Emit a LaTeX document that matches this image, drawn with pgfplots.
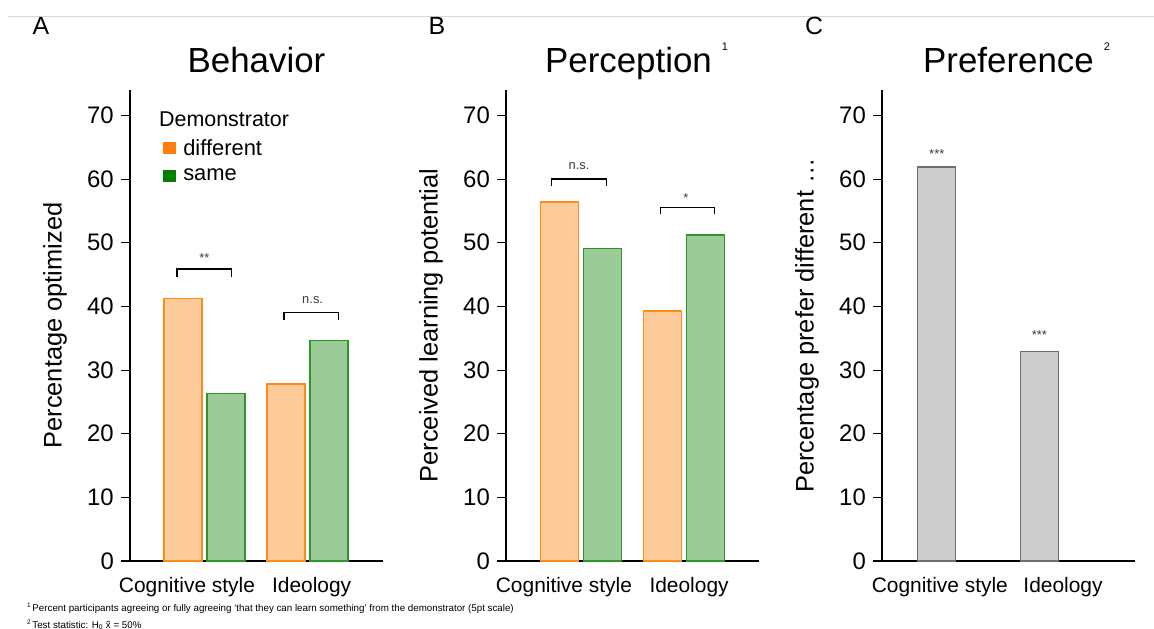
\documentclass[border=0pt]{standalone}
\usepackage{pgfplots}
\pgfplotsset{compat=1.18}
\usepackage{fontspec}
\setmainfont{Liberation Sans}
\definecolor{orfill}{RGB}{253,202,153}
\definecolor{oredge}{RGB}{255,140,26}
\definecolor{grfill}{RGB}{155,204,152}
\definecolor{gredge}{RGB}{44,150,44}
\definecolor{orleg}{RGB}{255,127,14}
\definecolor{grleg}{RGB}{0,128,0}
\definecolor{gyfill}{RGB}{204,204,204}
\definecolor{gyedge}{RGB}{110,110,110}
\definecolor{sigcol}{RGB}{60,60,60}
\pgfplotsset{panel/.style={
  scale only axis, width=253bp, height=471bp, ymin=0, ymax=74,
  axis lines=left, axis line style={-, line width=1.1bp, black},
  ytick={0,10,...,70},
  tick align=outside, major tick length=9bp,
  ytick style={line width=1.1bp, black}, xtick style={draw=none},
  yticklabel style={font=\fontsize{24}{24}\selectfont, inner sep=0pt, xshift=-7bp},
  xticklabel style={font=\fontsize{21}{21}\selectfont, inner sep=0pt, yshift=-7bp},
  /pgf/number format/assume math mode=true,
  every axis y label/.style={at={(axis description cs:-0.296,0.5)}, rotate=90, anchor=center, font=\fontsize{25.5}{25.5}\selectfont},
  title style={at={(axis description cs:0.5,1.025)}, anchor=base, font=\fontsize{35}{35}\selectfont},
  clip=false}}
\newcommand{\bracket}[3]{% xcenter, top, bottom
  \draw[line width=1.4bp, black] (axis cs:#1-0.265,#3) -- (axis cs:#1-0.265,#2) -- (axis cs:#1+0.265,#2) -- (axis cs:#1+0.265,#3);}
\begin{document}
\begin{tikzpicture}
\useasboundingbox (0,0) rectangle (1154bp,-629bp);
\draw[color={rgb,255:red,215;green,215;blue,215}, line width=0.8bp] (8bp,-16bp) -- (1154bp,-16bp);
% Panel A
\begin{axis}[panel, at={(130bp,-561bp)}, anchor=south west,
  xmin=-0.723, xmax=1.733, ybar, bar width=38bp,
  xtick={-0.17,1.04}, xticklabels={Cognitive style,Ideology},
  ylabel={Percentage optimized}, title={Behavior},
  legend style={draw=none, fill=none, inner sep=0pt, at={(axis description cs:0.13,0.897)}, anchor=north west,
    font=\fontsize{22}{22}\selectfont, row sep=10bp, nodes={inner sep=1bp}},
  legend cell align=left]
\addlegendimage{legend image code/.code={\fill[orleg] (0bp,-5bp) rectangle (12bp,6bp); \path[draw=none, fill=none] (0bp,0bp) rectangle (19bp,0.1bp);}}
\addlegendentry{different}
\addlegendimage{legend image code/.code={\fill[grleg] (0bp,-5bp) rectangle (12bp,6bp); \path[draw=none, fill=none] (0bp,0bp) rectangle (19bp,0.1bp);}}
\addlegendentry{same}
\addplot[bar shift=-21.5bp, fill=orfill, draw=oredge, line width=1.3bp] coordinates {(0,41.2) (1,27.8)};
\addplot[bar shift=21.5bp, fill=grfill, draw=gredge, line width=1.3bp] coordinates {(0,26.3) (1,34.6)};
\bracket{0}{45.9}{44.6}
\bracket{1.035}{39.0}{37.8}
\node[anchor=base, font=\fontsize{13}{13}\selectfont, text=sigcol] at (axis cs:0,46.9) {**};
\node[anchor=base, font=\fontsize{13}{13}\selectfont, text=sigcol] at (axis cs:1.05,40.5) {n.s.};
\end{axis}
\node[anchor=base west, font=\fontsize{21.5}{21.5}\selectfont, inner sep=0pt] at (159bp,-126bp) {Demonstrator};
% Panel B
\begin{axis}[panel, at={(506bp,-561bp)}, anchor=south west,
  xmin=-0.73, xmax=1.73, ybar, bar width=38bp,
  xtick={-0.167,1.05}, xticklabels={Cognitive style,Ideology},
  ylabel={Perceived learning potential},
  title={Perception\rlap{\hspace{10bp}\raisebox{22bp}{\fontsize{11}{11}\selectfont 1}}},
  title style={xshift=-4bp}]
\addplot[bar shift=-21.5bp, fill=orfill, draw=oredge, line width=1.3bp] coordinates {(0,56.4) (1,39.3)};
\addplot[bar shift=21.5bp, fill=grfill, draw=gredge, line width=1.3bp] coordinates {(0,49.1) (1,51.2)};
\bracket{-0.02}{60.0}{58.9}
\bracket{1.035}{55.5}{54.5}
\node[anchor=base, font=\fontsize{13}{13}\selectfont, text=sigcol] at (axis cs:-0.02,61.5) {n.s.};
\node[anchor=base, font=\fontsize{13}{13}\selectfont, text=sigcol] at (axis cs:1.02,56.3) {*};
\end{axis}
% Panel C
\begin{axis}[panel, at={(882bp,-561bp)}, anchor=south west,
  xmin=-0.534, xmax=1.932, ybar, bar width=38bp,
  xtick={0.03,1.23}, xticklabels={Cognitive style,Ideology},
  ylabel={Percentage prefer different \dots},
  title={Preference\rlap{\hspace{10bp}\raisebox{22bp}{\fontsize{11}{11}\selectfont 2}}}]
\addplot[bar shift=0bp, fill=gyfill, draw=gyedge, line width=1.3bp] coordinates {(0,61.9) (1,32.9)};
\node[anchor=base, font=\fontsize{13}{13}\selectfont, text=sigcol] at (axis cs:0,63.3) {***};
\node[anchor=base, font=\fontsize{13}{13}\selectfont, text=sigcol] at (axis cs:1,34.8) {***};
\end{axis}
% panel letters
\node[font=\fontsize{25}{25}\selectfont] at (41bp,-26bp) {A};
\node[font=\fontsize{25}{25}\selectfont] at (437bp,-26bp) {B};
\node[font=\fontsize{25}{25}\selectfont] at (814bp,-26bp) {C};
% footnotes
\node[anchor=base west, inner sep=0pt, font=\fontsize{9.8}{9.8}\selectfont] at (27bp,-611bp) {\raisebox{4bp}{\fontsize{6.5}{6.5}\selectfont 1}\,Percent participants agreeing or fully agreeing ‘that they can learn something’ from the demonstrator (5pt scale)};
\node[anchor=base west, inner sep=0pt, font=\fontsize{9.8}{9.8}\selectfont] at (27bp,-628bp) {\raisebox{4bp}{\fontsize{6.5}{6.5}\selectfont 2}\,Test statistic: H\textsubscript{0} \~{x} = 50\%};
\end{tikzpicture}
\end{document}
